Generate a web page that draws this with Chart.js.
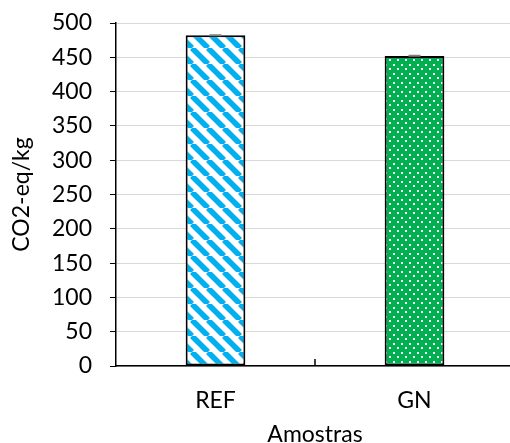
<!DOCTYPE html>
<html><head><meta charset="utf-8">
<script src="https://cdn.jsdelivr.net/npm/chart.js@4/dist/chart.umd.min.js"></script>
<style>html,body{margin:0;padding:0;background:#fff;overflow:hidden}#wrap{width:510px;height:443px;position:relative;overflow:hidden}</style>
</head><body><div id="wrap"><canvas id="c" width="514" height="443" style="width:514px;height:443px"></canvas></div>
<script>
const categories = ['REF', 'GN'];
const values = [482, 452];
const errors = [0.3, 0.3];
const yTicks = [0, 50, 100, 150, 200, 250, 300, 350, 400, 450, 500];
const yTitle = 'CO2-eq/kg';
const xTitle = 'Amostras';

const FONT = 'Lato, Calibri, Carlito, sans-serif';

function stripePattern() {
  const s = 16;
  const c = document.createElement('canvas');
  c.width = s; c.height = s;
  const g = c.getContext('2d');
  g.fillStyle = '#ffffff'; g.fillRect(0, 0, s, s);
  g.strokeStyle = '#00B0F0'; g.lineWidth = 5.5;
  for (const o of [-s, 0, s]) {
    g.beginPath(); g.moveTo(o, 0); g.lineTo(o + s, s); g.stroke();
  }
  return g.createPattern(c, 'repeat');
}
function dotPattern() {
  const w = 8, h = 9;
  const c = document.createElement('canvas');
  c.width = w; c.height = h;
  const g = c.getContext('2d');
  g.fillStyle = '#00B050'; g.fillRect(0, 0, w, h);
  g.fillStyle = '#ffffff';
  g.fillRect(1, 1, 2, 2);
  g.fillRect(5, 5, 2, 2);
  return g.createPattern(c, 'repeat');
}

const extras = {
  id: 'extras',
  afterDatasetsDraw(chart) {
    const ctx = chart.ctx;
    const x = chart.scales.x, y = chart.scales.y;
    const meta = chart.getDatasetMeta(0);
    ctx.save();
    ctx.strokeStyle = '#7f7f7f'; ctx.lineWidth = 2;
    meta.data.forEach((bar, i) => {
      const yt = y.getPixelForValue(values[i] + errors[i]);
      const yb = y.getPixelForValue(values[i] - errors[i]);
      ctx.beginPath();
      ctx.moveTo(bar.x, yt); ctx.lineTo(bar.x, yb);
      ctx.moveTo(bar.x - 6, yt); ctx.lineTo(bar.x + 6, yt);
      ctx.stroke();
    });
    ctx.strokeStyle = '#000'; ctx.lineWidth = 1.5;
    for (let i = 0; i < categories.length - 1; i++) {
      const bx = (x.getPixelForValue(i) + x.getPixelForValue(i + 1)) / 2;
      ctx.beginPath();
      ctx.moveTo(bx, y.bottom); ctx.lineTo(bx, y.bottom - 7);
      ctx.stroke();
    }
    ctx.restore();
  }
};

new Chart(document.getElementById('c'), {
  type: 'bar',
  data: {
    labels: categories,
    datasets: [{
      data: values,
      backgroundColor: [stripePattern(), dotPattern()],
      borderColor: '#000000',
      borderWidth: 2,
      borderSkipped: false,
      categoryPercentage: 1,
      barPercentage: 0.3
    }]
  },
  options: {
    responsive: false,
    animation: false,
    devicePixelRatio: 1,
    layout: { padding: { top: 23, right: 0, bottom: 0, left: 0 } },
    plugins: { legend: { display: false }, tooltip: { enabled: false } },
    scales: {
      x: {
        grid: { display: false, drawTicks: false },
        border: { color: '#000', width: 1.5 },
        ticks: { color: '#000', font: { family: FONT, size: 23 }, padding: 21 },
        title: { display: true, text: xTitle, color: '#000', font: { family: FONT, size: 23, lineHeight: 1 }, padding: { top: 0, bottom: -3 } },
        afterFit(s) { s.height = 77; s.paddingLeft = 0; s.paddingRight = 0; }
      },
      y: {
        min: 0, max: 500,
        afterBuildTicks(s) { s.ticks = yTicks.map(v => ({ value: v })); },
        grid: { color: '#d9d9d9', lineWidth: 1, tickLength: 6, tickColor: '#000', drawTicks: true },
        border: { color: '#000', width: 1.5 },
        ticks: { color: '#000', font: { family: FONT, size: 23 }, padding: 18 },
        title: { display: true, text: yTitle, color: '#000', font: { family: FONT, size: 23, lineHeight: 1 }, padding: { top: 10, bottom: 0 } },
        afterFit(s) { s.width = 116; s.paddingTop = 0; s.paddingBottom = 0; }
      }
    }
  },
  plugins: [extras]
});
</script>
</body></html>
